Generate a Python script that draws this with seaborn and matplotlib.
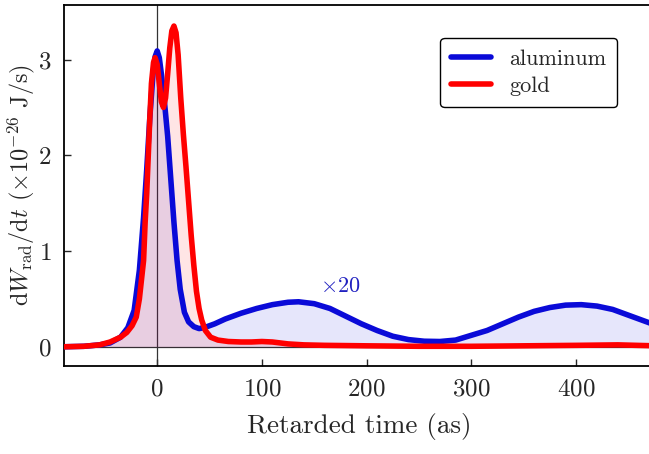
import numpy as np
import pandas as pd
import matplotlib
matplotlib.use("Agg")
import matplotlib.pyplot as plt
import seaborn as sns

# aluminum (values after the main pulse shown x20)
t_al = [-89, -70, -55, -45, -35, -28, -22, -17, -13, -10, -7, -4, -2, 0, 2, 4, 7, 10,
        13, 16, 19, 22, 26, 30, 35, 40, 45, 55, 65, 80, 95, 110, 125, 135, 150, 165,
        180, 195, 210, 225, 240, 255, 270, 285, 300, 315, 330, 345, 360, 375, 390,
        405, 420, 435, 450, 465, 475]
p_al = [0.0, 0.005, 0.02, 0.04, 0.1, 0.2, 0.38, 0.8, 1.35, 1.85, 2.4, 2.85, 3.03, 3.09,
        3.02, 2.85, 2.55, 2.2, 1.75, 1.3, 0.9, 0.6, 0.36, 0.26, 0.21, 0.19, 0.2, 0.24,
        0.29, 0.35, 0.4, 0.44, 0.465, 0.47, 0.45, 0.4, 0.32, 0.24, 0.17, 0.11, 0.075,
        0.058, 0.055, 0.07, 0.12, 0.17, 0.24, 0.31, 0.37, 0.41, 0.435, 0.44, 0.425,
        0.39, 0.33, 0.27, 0.23]

# gold
t_au = [-89, -70, -55, -45, -35, -29, -24, -20, -17, -15, -13, -11.5, -10, -8.5, -7,
        -5.5, -3.5, -2, 0, 2, 4, 6, 8, 10, 12, 14, 16, 18, 20, 22.5, 25, 27.5, 30, 32.5,
        35, 37.5, 40, 42.5, 46, 51, 58, 68, 80, 90, 100, 110, 125, 140, 160, 200, 250,
        300, 350, 400, 440, 475]
p_au = [0.0, 0.005, 0.02, 0.05, 0.1, 0.15, 0.22, 0.31, 0.5, 0.7, 0.9, 1.3, 1.6, 2.0,
        2.4, 2.75, 2.97, 3.02, 2.95, 2.75, 2.56, 2.5, 2.6, 2.85, 3.12, 3.3, 3.35, 3.28,
        3.05, 2.6, 2.22, 1.88, 1.52, 1.16, 0.85, 0.58, 0.4, 0.28, 0.17, 0.1, 0.07, 0.055,
        0.05, 0.05, 0.055, 0.05, 0.03, 0.02, 0.015, 0.01, 0.005, 0.005, 0.01, 0.015,
        0.02, 0.01]

blue = "#0a0ad8"
red = "#ff0000"

sns.set_style("ticks")
plt.rcParams["font.family"] = "serif"
plt.rcParams["font.serif"] = ["cmr10"]
plt.rcParams["mathtext.fontset"] = "cm"
plt.rcParams["axes.formatter.use_mathtext"] = True

fig = plt.figure(figsize=(6.49, 4.54), dpi=100)
ax = fig.add_axes([0.0986, 0.194, 0.91, 0.795])

ax.axvline(0, color="#333333", lw=0.9, zorder=1)
ax.axhline(0, color="#333333", lw=0.9, zorder=1)

ax.fill_between(t_al, p_al, color=blue, alpha=0.1, lw=0, zorder=2)
ax.fill_between(t_au, p_au, color=red, alpha=0.1, lw=0, zorder=2)

sns.lineplot(x=t_al, y=p_al, color=blue, lw=4, ax=ax, label="aluminum", zorder=3)
sns.lineplot(x=t_au, y=p_au, color=red, lw=4, ax=ax, label="gold", zorder=4)

ax.text(175, 0.63, r"$\times 20$", color="#2020c0", fontsize=16, ha="center", va="center")

ax.set_xlim(-89, 475)
ax.set_ylim(-0.2, 3.57)
ax.set_xticks([0, 100, 200, 300, 400])
ax.set_yticks([0, 1, 2, 3])
ax.tick_params(direction="in", length=5, width=1, labelsize=18, pad=9)
for s in ax.spines.values():
    s.set_linewidth(1.3)
    s.set_color("black")

ax.set_xlabel("Retarded time (as)", fontsize=19.5, labelpad=9)
ax.set_ylabel(r"$\mathrm{d}W_\mathrm{rad}/\mathrm{d}t$ $(\times 10^{-26}$ J/s$)$", fontsize=17.5,
              labelpad=1)

leg = ax.legend(loc="upper right", bbox_to_anchor=(0.937, 0.909), fontsize=16,
                frameon=True, fancybox=True, handlelength=1.8, borderpad=0.5,
                labelspacing=0.35, borderaxespad=0)
leg.get_frame().set_edgecolor("black")
leg.get_frame().set_linewidth(1.0)
leg.get_frame().set_alpha(1)

fig.savefig("out.png", dpi=100)
